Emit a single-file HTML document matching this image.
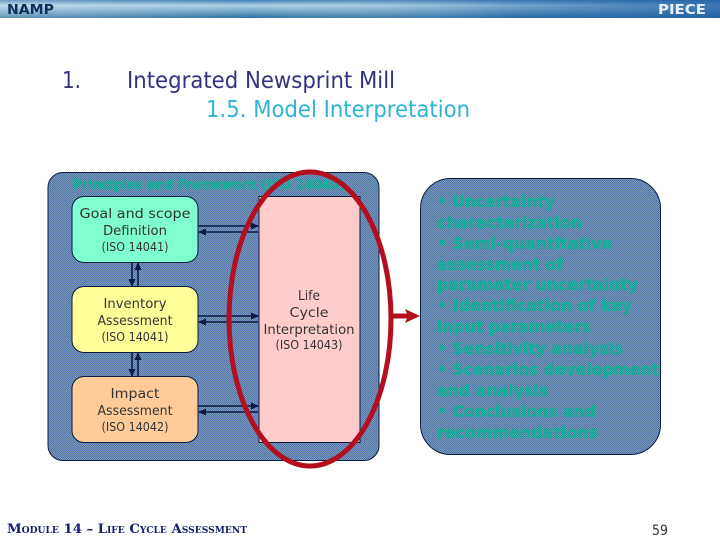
<!DOCTYPE html>
<html>
<head>
<meta charset="utf-8">
<style>
html,body{margin:0;padding:0;background:#fff;width:720px;height:540px;overflow:hidden}
svg{display:block}
.b{font-family:"DejaVu Sans","Liberation Sans",sans-serif;font-size:13.5px;fill:#333;text-anchor:middle}
.s{font-family:"DejaVu Sans","Liberation Sans",sans-serif;font-size:12.500px;fill:#333;text-anchor:middle}
.t{font-family:"DejaVu Sans","Liberation Sans",sans-serif;font-size:16px;font-weight:bold;fill:#0fb595;stroke:#0fb595;stroke-width:.5px}
.h{font-family:"DejaVu Sans","Liberation Sans",sans-serif;font-size:23px}
</style>
</head>
<body>
<svg width="720" height="540" viewBox="0 0 720 540" xmlns="http://www.w3.org/2000/svg">
<defs>
<linearGradient id="bar" x1="0" y1="0" x2="0" y2="1">
<stop offset="0" stop-color="#3f7fb5"/><stop offset=".3" stop-color="#a9d0e6"/><stop offset=".65" stop-color="#6fa5c8"/><stop offset="1" stop-color="#2f6f9f"/>
</linearGradient>
<linearGradient id="barH" x1="0" y1="0" x2="1" y2="0">
<stop offset="0" stop-color="#fff" stop-opacity=".25"/><stop offset=".35" stop-color="#fff" stop-opacity="0"/><stop offset=".7" stop-color="#1f5fa5" stop-opacity=".35"/><stop offset="1" stop-color="#1f5fa5" stop-opacity=".8"/>
</linearGradient>
<pattern id="dith" width="2" height="2" patternUnits="userSpaceOnUse">
<rect width="2" height="2" fill="#7a9bb8"/><rect width="1" height="1" fill="#4f70a8"/><rect x="1" y="1" width="1" height="1" fill="#5878aa"/>
</pattern>
<pattern id="dithO" width="2" height="2" patternUnits="userSpaceOnUse">
<rect width="1" height="1" fill="#3f6f9f" fill-opacity=".3"/>
</pattern>
<clipPath id="cp1"><rect x="48" y="172.500" width="331" height="288" rx="15"/></clipPath>
<clipPath id="cp2"><rect x="420.500" y="178.500" width="240" height="276" rx="30"/></clipPath>
<marker id="ah" markerWidth="8" markerHeight="7" refX="7" refY="3.500" orient="auto" markerUnits="userSpaceOnUse">
<path d="M0 0L8 3.500L0 7z" fill="#0a1a40"/>
</marker>
</defs>

<rect x="0" y="0" width="720" height="18" fill="url(#bar)"/>
<rect x="0" y="0" width="720" height="18" fill="url(#barH)"/>
<text x="7" y="14" font-family="'DejaVu Sans','Liberation Sans',sans-serif" font-size="13" font-weight="bold" fill="#0d2f5c" textLength="47" lengthAdjust="spacingAndGlyphs">NAMP</text>
<text x="658" y="14" font-family="'DejaVu Sans','Liberation Sans',sans-serif" font-size="13" font-weight="bold" fill="#e8f2f8" textLength="48" lengthAdjust="spacingAndGlyphs">PIECE</text>

<text class="h" x="62" y="88" fill="#33337f" textLength="19" lengthAdjust="spacingAndGlyphs">1.</text>
<text class="h" x="127" y="88" fill="#33337f" textLength="268" lengthAdjust="spacingAndGlyphs">Integrated Newsprint Mill</text>
<text class="h" x="206" y="117" fill="#2fb4d6" textLength="264" lengthAdjust="spacingAndGlyphs">1.5. Model Interpretation</text>

<!-- left panel -->
<rect x="48" y="172.500" width="331" height="288" rx="15" fill="url(#dith)" stroke="#0a1a40" stroke-width="1"/>
<text class="t" x="73" y="189" style="font-size:13.5px" textLength="272" lengthAdjust="spacingAndGlyphs">Principles and Framework (ISO 14040)</text>
<rect x="48" y="173" width="331" height="23" fill="url(#dithO)" clip-path="url(#cp1)"/>

<rect x="72" y="196.500" width="126" height="66" rx="12" fill="#7fffd0" stroke="#0a1a40"/>
<text class="b" x="135" y="218" textLength="111" lengthAdjust="spacingAndGlyphs">Goal and scope</text>
<text class="b" x="135" y="235" textLength="64" lengthAdjust="spacingAndGlyphs">Definition</text>
<text class="s" x="135" y="251" textLength="67" lengthAdjust="spacingAndGlyphs">(ISO 14041)</text>

<rect x="72" y="286.500" width="126" height="66" rx="12" fill="#ffff99" stroke="#0a1a40"/>
<text class="b" x="135" y="308" textLength="63" lengthAdjust="spacingAndGlyphs">Inventory</text>
<text class="b" x="135" y="325" textLength="75" lengthAdjust="spacingAndGlyphs">Assessment</text>
<text class="s" x="135" y="341" textLength="67" lengthAdjust="spacingAndGlyphs">(ISO 14041)</text>

<rect x="72" y="376.500" width="126" height="66" rx="12" fill="#ffcc99" stroke="#0a1a40"/>
<text class="b" x="135" y="398" textLength="49" lengthAdjust="spacingAndGlyphs">Impact</text>
<text class="b" x="135" y="415" textLength="75" lengthAdjust="spacingAndGlyphs">Assessment</text>
<text class="s" x="135" y="431" textLength="67" lengthAdjust="spacingAndGlyphs">(ISO 14042)</text>

<rect x="259" y="196.500" width="101" height="246" fill="#ffcccc" stroke="#0a1a40"/>
<text class="b" x="309" y="300" textLength="22" lengthAdjust="spacingAndGlyphs">Life</text>
<text class="b" x="309" y="317" textLength="39" lengthAdjust="spacingAndGlyphs">Cycle</text>
<text class="b" x="309" y="334" textLength="91" lengthAdjust="spacingAndGlyphs">Interpretation</text>
<text class="s" x="309" y="349" textLength="67" lengthAdjust="spacingAndGlyphs">(ISO 14043)</text>

<g stroke="#0a1a40" stroke-width="1.600" fill="none" marker-end="url(#ah)">
<line x1="198" y1="226" x2="258" y2="226"/>
<line x1="258" y1="232" x2="199" y2="232"/>
<line x1="198" y1="316" x2="258" y2="316"/>
<line x1="258" y1="322" x2="199" y2="322"/>
<line x1="198" y1="406" x2="258" y2="406"/>
<line x1="258" y1="412" x2="199" y2="412"/>
<line x1="132" y1="262" x2="132" y2="286"/>
<line x1="138" y1="286" x2="138" y2="263"/>
<line x1="132" y1="352" x2="132" y2="376"/>
<line x1="138" y1="376" x2="138" y2="353"/>
</g>

<!-- right panel -->
<rect x="420.500" y="178.500" width="240" height="276" rx="30" fill="url(#dith)" stroke="#0a1a40"/>
<g>
<text class="t" x="437" y="207" textLength="118" lengthAdjust="spacingAndGlyphs">• Uncertainty</text>
<text class="t" x="437" y="228" textLength="145" lengthAdjust="spacingAndGlyphs">characterization</text>
<text class="t" x="437" y="249" textLength="175" lengthAdjust="spacingAndGlyphs">• Semi-quantitative</text>
<text class="t" x="437" y="270" textLength="126" lengthAdjust="spacingAndGlyphs">assessment of</text>
<text class="t" x="437" y="290" textLength="201" lengthAdjust="spacingAndGlyphs">parameter uncertainty</text>
<text class="t" x="437" y="311" textLength="195" lengthAdjust="spacingAndGlyphs">• Identification of key</text>
<text class="t" x="437" y="332" textLength="154" lengthAdjust="spacingAndGlyphs">input parameters</text>
<text class="t" x="437" y="354" textLength="186" lengthAdjust="spacingAndGlyphs">• Sensitivity analysis</text>
<text class="t" x="437" y="375" textLength="222" lengthAdjust="spacingAndGlyphs">• Scenarios development</text>
<text class="t" x="437" y="396" textLength="111" lengthAdjust="spacingAndGlyphs">and analysis</text>
<text class="t" x="437" y="417" textLength="159" lengthAdjust="spacingAndGlyphs">• Conclusions and</text>
<text class="t" x="437" y="438" textLength="161" lengthAdjust="spacingAndGlyphs">recommendations</text>
</g>
<rect x="420" y="190" width="241" height="255" fill="url(#dithO)" clip-path="url(#cp2)"/>

<!-- ellipse and arrow -->
<ellipse cx="310" cy="319" rx="81" ry="147" fill="none" stroke="#b30f1f" stroke-width="5"/>
<line x1="392" y1="316" x2="408" y2="316" stroke="#b30f1f" stroke-width="5"/>
<path d="M405 309L420 316L405 323L408 316z" fill="#b30f1f"/>

<!-- footer -->
<text x="7" y="533" font-family="'DejaVu Serif','Liberation Serif',serif" font-size="13" font-weight="bold" fill="#14206e" style="font-variant:small-caps" textLength="240" lengthAdjust="spacingAndGlyphs">Module 14 – Life Cycle Assessment</text>
<text x="652" y="535" font-family="'DejaVu Sans','Liberation Sans',sans-serif" font-size="14" fill="#333" textLength="16" lengthAdjust="spacingAndGlyphs">59</text>
</svg>
</body>
</html>
